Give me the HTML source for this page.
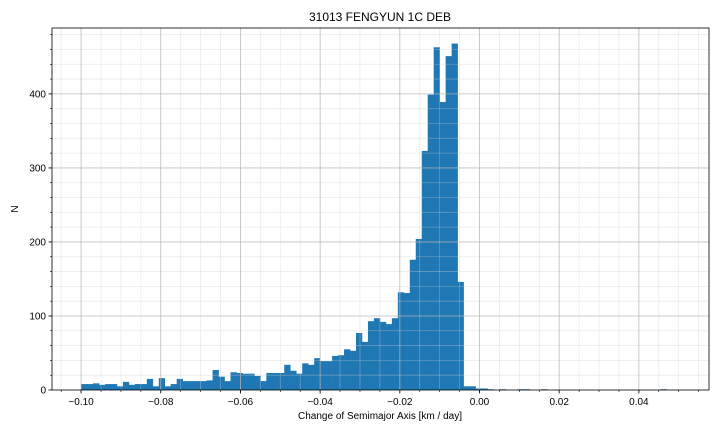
<!DOCTYPE html>
<html><head><meta charset="utf-8"><style>
body{margin:0;background:#fff;}
svg{font-family:"Liberation Sans","DejaVu Sans",sans-serif;}
</style></head><body>
<svg id="c" width="720" height="432" xmlns="http://www.w3.org/2000/svg">
<rect width="720" height="432" fill="#fff"/>
<text x="380" y="21" text-anchor="middle" font-size="12">31013 FENGYUN 1C DEB</text>
<text x="380" y="419" text-anchor="middle" font-size="10">Change of Semimajor Axis [km / day]</text>
<text x="18" y="209" text-anchor="middle" font-size="10" transform="rotate(-90 18 209)">N</text>
<g id="bars"></g><g id="grid"></g><g id="axes"></g>
</svg>
<script>
const binStart = -0.1;
const binWidth = 0.0015;
const counts = [8,8,9,7,8,8,5,11,7,8,8,15,5,16,5,8,15,12,12,12,12,13,27,18,12,24,23,22,22,19,12,23,23,23,34,26,22,36,34,43,39,39,46,47,55,53,77,65,93,97,92,89,97,132,131,176,204,323,399,463,389,451,468,146,5,5,2,2,1,0,1,0,0,1,1,0,0,1,0,0,0,0,0,0,0,0,0,0,0,0,0,0,0,0,0,0,0,1,0,0];
const xTicks = [-0.10,-0.08,-0.06,-0.04,-0.02,0.00,0.02,0.04];
const xTickLabels = ["−0.10","−0.08","−0.06","−0.04","−0.02","0.00","0.02","0.04"];
const yTicks = [0,100,200,300,400];

const L=52,R=709,T=28,B=390;
const xMin=-0.1073,xMax=0.0576,yMax=489;
const X=v=>L+(v-xMin)/(xMax-xMin)*(R-L);
const Y=n=>B-n/yMax*(B-T);
const NS="http://www.w3.org/2000/svg";
function mk(tag,attrs,parent,txt){const e=document.createElementNS(NS,tag);for(const k in attrs)e.setAttribute(k,attrs[k]);if(txt!==undefined)e.textContent=txt;parent.appendChild(e);return e;}
const grid=document.getElementById('grid'),bars=document.getElementById('bars'),axes=document.getElementById('axes');
for(let v=-0.105;v<=0.0576;v+=0.005){const x=X(v);const g=mk('line',{x1:x,x2:x,y1:T,y2:B,stroke:'#cccccc','stroke-opacity':0.4,'stroke-width':0.8},grid);


const t=mk('line',{x1:x,x2:x,y1:B,y2:B+2,stroke:'#000','stroke-width':0.6},axes);

}
for(let n=20;n<yMax;n+=20){const y=Y(n);const g=mk('line',{x1:L,x2:R,y1:y,y2:y,stroke:'#cccccc','stroke-opacity':0.4,'stroke-width':0.8},grid);


const t=mk('line',{x1:L-2,x2:L,y1:y,y2:y,stroke:'#000','stroke-width':0.6},axes);

}
xTicks.forEach((v,i)=>{const x=X(v);const g=mk('line',{x1:x,x2:x,y1:T,y2:B,stroke:'#b0b0b0','stroke-opacity':0.75,'stroke-width':0.8},grid);


const t=mk('line',{x1:x,x2:x,y1:B,y2:B+3.5,stroke:'#000','stroke-width':0.8},axes);


const l=mk('text',{x:x,y:B+15,'text-anchor':'middle','font-size':10},axes,xTickLabels[i]);

});
yTicks.forEach(n=>{const y=Y(n);if(n>0){const g=mk('line',{x1:L,x2:R,y1:y,y2:y,stroke:'#b0b0b0','stroke-opacity':0.75,'stroke-width':0.8},grid);

}
const t=mk('line',{x1:L-3.5,x2:L,y1:y,y2:y,stroke:'#000','stroke-width':0.8},axes);


const l=mk('text',{x:L-6,y:y+3.5,'text-anchor':'end','font-size':10},axes,String(n));

});
counts.forEach((c,i)=>{if(c<=0)return;const x0=X(binStart+i*binWidth),x1=X(binStart+(i+1)*binWidth);
const r=mk('rect',{x:x0,y:Y(c),width:x1-x0+0.3,height:B-Y(c),fill:'#1f77b4'},bars);

});
const f=mk('rect',{x:L,y:T,width:R-L,height:B-T,fill:'none',stroke:'#000','stroke-width':0.8},axes);


</script>
</body></html>
